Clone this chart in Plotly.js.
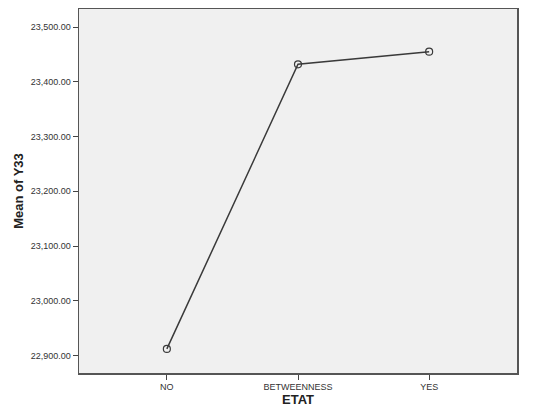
<!DOCTYPE html>
<html>
<head>
<meta charset="utf-8">
<script src="https://cdn.plot.ly/plotly-3.0.1.min.js"></script>
<style>
  html, body { margin: 0; padding: 0; background: #fff; }
  #chart { width: 550px; height: 415px; }
</style>
</head>
<body>
<div id="chart"></div>
<script>
// means of Y33 per ETAT group
var etat = ["NO", "BETWEENNESS", "YES"];
var meanY33 = [22912, 23432, 23455];
var yTicks = [22900, 23000, 23100, 23200, 23300, 23400, 23500];

var trace = {
    x: etat,
    y: meanY33,
    type: 'scatter',
    mode: 'lines+markers',
    line: { color: '#3a3a3a', width: 1.5 },
    marker: {
        symbol: 'circle-open',
        size: 7,
        color: '#3a3a3a',
        line: { width: 1.2 }
    },
    hoverinfo: 'x+y'
};

var layout = {
    width: 550,
    height: 415,
    margin: { l: 79, r: 33, t: 9, b: 42 },
    paper_bgcolor: '#ffffff',
    plot_bgcolor: '#f0f0f0',
    font: { family: 'Arial, Liberation Sans, sans-serif', size: 9, color: '#333' },
    showlegend: false,
    xaxis: {
        type: 'category',
        range: [-0.67, 2.67],
        showgrid: false,
        zeroline: false,
        showline: true,
        mirror: true,
        linecolor: '#555',
        linewidth: 1.5,
        ticks: 'outside',
        ticklen: 5,
        tickcolor: '#444',
        tickfont: { size: 9, color: '#333' },
        title: {
            text: 'ETAT',
            font: { size: 13, color: '#222', family: 'Arial, Liberation Sans, sans-serif', weight: 'bold' },
            standoff: 3
        }
    },
    yaxis: {
        range: [22868, 23533],
        tickvals: yTicks,
        tickformat: ',.2f',
        showgrid: false,
        zeroline: false,
        showline: true,
        mirror: true,
        linecolor: '#555',
        linewidth: 1.5,
        ticks: 'outside',
        ticklen: 5,
        tickcolor: '#444',
        tickfont: { size: 9, color: '#333' },
        title: {
            text: 'Mean of Y33',
            font: { size: 13, color: '#222', family: 'Arial, Liberation Sans, sans-serif', weight: 'bold' },
            standoff: 4
        }
    }
};

var config = { displayModeBar: false, staticPlot: true };

Plotly.newPlot('chart', [trace], layout, config);
</script>
</body>
</html>
